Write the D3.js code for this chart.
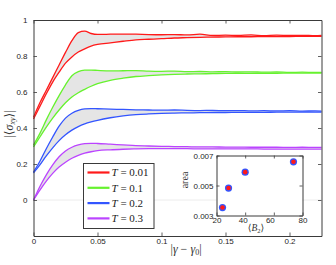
<!DOCTYPE html>
<html>
<head>
<meta charset="utf-8">
<script src="https://cdn.jsdelivr.net/npm/d3@7.9.0/dist/d3.min.js"></script>
<style>
  html, body { margin: 0; padding: 0; background: #fff; }
  svg { display: block; }
  .tick text { font-family: "Liberation Sans", Arial, sans-serif; font-size: 8px; fill: #262626; }
</style>
</head>
<body>
<svg id="chart" width="336" height="265"></svg>
<script>
// strain values |gamma - gamma0| shared by every curve
const gammas = [0, 0.005, 0.01, 0.015, 0.02, 0.025, 0.03, 0.035, 0.04, 0.045, 0.05,
  0.06, 0.07, 0.08, 0.09, 0.1, 0.11, 0.12, 0.13, 0.14, 0.15, 0.16, 0.17, 0.18,
  0.19, 0.2, 0.21, 0.22, 0.225];

const temps = ['0.01', '0.1', '0.2', '0.3'];
const colors = ['#ff1a1a', '#66f22e', '#3355ff', '#bb44ff'];

const upper001 = [0.46, 0.54, 0.61, 0.68, 0.75, 0.82, 0.885, 0.93, 0.938, 0.925, 0.92,
  0.921, 0.922, 0.921, 0.919, 0.918, 0.919, 0.917, 0.921, 0.914, 0.916, 0.914, 0.917,
  0.913, 0.916, 0.914, 0.915, 0.913, 0.914];
const lower001 = [0.45, 0.52, 0.59, 0.655, 0.71, 0.76, 0.795, 0.822, 0.84, 0.855, 0.864,
  0.873, 0.882, 0.89, 0.893, 0.896, 0.9, 0.902, 0.904, 0.905, 0.906, 0.907, 0.907,
  0.908, 0.908, 0.908, 0.909, 0.909, 0.909];

const upper01 = [0.305, 0.37, 0.445, 0.515, 0.58, 0.64, 0.69, 0.713, 0.721, 0.722, 0.72,
  0.717, 0.718, 0.719, 0.716, 0.715, 0.716, 0.713, 0.714, 0.712, 0.713, 0.711, 0.712,
  0.71, 0.711, 0.709, 0.71, 0.709, 0.709];
const lower01 = [0.295, 0.35, 0.405, 0.455, 0.5, 0.54, 0.572, 0.596, 0.615, 0.632, 0.646,
  0.665, 0.677, 0.686, 0.691, 0.695, 0.698, 0.7, 0.701, 0.702, 0.703, 0.703, 0.704,
  0.704, 0.704, 0.705, 0.705, 0.705, 0.705];

const upper02 = [0.155, 0.215, 0.285, 0.35, 0.41, 0.455, 0.482, 0.498, 0.506, 0.508, 0.507,
  0.505, 0.503, 0.501, 0.5, 0.499, 0.5, 0.498, 0.497, 0.498, 0.496, 0.497, 0.495,
  0.496, 0.495, 0.496, 0.494, 0.495, 0.494];
const lower02 = [0.15, 0.195, 0.245, 0.29, 0.33, 0.362, 0.388, 0.408, 0.423, 0.434, 0.443,
  0.457, 0.467, 0.474, 0.478, 0.481, 0.483, 0.484, 0.485, 0.486, 0.486, 0.487, 0.487,
  0.487, 0.488, 0.488, 0.488, 0.488, 0.488];

const upper03 = [0.0, 0.075, 0.14, 0.195, 0.24, 0.272, 0.293, 0.306, 0.313, 0.315, 0.314,
  0.31, 0.306, 0.302, 0.3, 0.298, 0.297, 0.296, 0.295, 0.295, 0.294, 0.294, 0.293,
  0.293, 0.293, 0.292, 0.293, 0.292, 0.292];
const lower03 = [0.0, 0.055, 0.105, 0.148, 0.183, 0.21, 0.232, 0.248, 0.26, 0.268, 0.274,
  0.279, 0.282, 0.284, 0.285, 0.285, 0.285, 0.285, 0.284, 0.284, 0.284, 0.284, 0.284,
  0.283, 0.283, 0.283, 0.283, 0.283, 0.283];

const uppers = [upper001, upper01, upper02, upper03];
const lowers = [lower001, lower01, lower02, lower03];

const xTicks = [0, 0.05, 0.1, 0.15, 0.2];
const yTicks = [0, 0.2, 0.4, 0.6, 0.8, 1];

// inset: area between the curves against <B2>
const insetB2 = [24.2, 28.4, 40, 73.7];
const insetArea = [0.00353, 0.00483, 0.00589, 0.00658];
const insetXTicks = [20, 40, 60, 80];
const insetYTicks = [0.003, 0.005, 0.007];

const svg = d3.select('#chart');

const x = d3.scaleLinear().domain([0, 0.225]).range([33.5, 321.5]);
const y = d3.scaleLinear().domain([-0.2, 1]).range([236, 20]);

// faint zero line
svg.append('line')
  .attr('x1', x(0)).attr('x2', x(0.225))
  .attr('y1', y(0)).attr('y2', y(0))
  .attr('stroke', '#ececec').attr('stroke-width', 1);

const area = d3.area()
  .x((d) => x(d.g))
  .y0((d) => y(d.lo))
  .y1((d) => y(d.hi))
  .curve(d3.curveMonotoneX);

const line = d3.line()
  .x((d) => x(d[0]))
  .y((d) => y(d[1]))
  .curve(d3.curveMonotoneX);

temps.forEach((t, i) => {
  let band = gammas.map((g, k) => ({ g: g, lo: lowers[i][k], hi: uppers[i][k] }));
  svg.append('path')
    .attr('d', area(band))
    .attr('fill', '#e5e5e5');
});

temps.forEach((t, i) => {
  [lowers[i], uppers[i]].forEach((vals) => {
    svg.append('path')
      .attr('d', line(gammas.map((g, k) => [g, vals[k]])))
      .attr('fill', 'none')
      .attr('stroke', colors[i])
      .attr('stroke-width', 1.3)
      .attr('stroke-linejoin', 'round');
  });
});

// axes, MATLAB style: box with inward ticks on all sides
const axColor = '#3a3a3a';
const gx = svg.append('g').attr('transform', `translate(0,${y(-0.2)})`)
  .call(d3.axisBottom(x).tickValues(xTicks).tickSizeInner(-3.5).tickSizeOuter(0)
    .tickPadding(3).tickFormat(d3.format('~g')));
const gxTop = svg.append('g').attr('transform', `translate(0,${y(1)})`)
  .call(d3.axisTop(x).tickValues(xTicks).tickSizeInner(-3.5).tickSizeOuter(0).tickFormat(''));
const gy = svg.append('g').attr('transform', `translate(${x(0)},0)`)
  .call(d3.axisLeft(y).tickValues(yTicks).tickSizeInner(-3.5).tickSizeOuter(0)
    .tickPadding(6).tickFormat(d3.format('~g')));
const gyRight = svg.append('g').attr('transform', `translate(${x(0.225)},0)`)
  .call(d3.axisRight(y).tickValues(yTicks).tickSizeInner(-3.5).tickSizeOuter(0).tickFormat(''));

[gx, gxTop, gy, gyRight].forEach((g) => {
  g.select('.domain').attr('stroke', axColor).attr('stroke-width', 1);
  g.selectAll('.tick line').attr('stroke', axColor).attr('stroke-width', 0.8);
});
gx.selectAll('.tick text').attr('dy', '0.6em');

// axis labels
svg.append('text')
  .attr('x', 186).attr('y', 253)
  .attr('text-anchor', 'middle')
  .attr('font-family', '"Liberation Serif", "DejaVu Serif", serif')
  .attr('font-size', 12).attr('fill', '#333')
  .html('|<tspan font-style="italic">γ</tspan> − <tspan font-style="italic">γ</tspan><tspan font-size="8" dy="2">0</tspan><tspan dy="-2">|</tspan>');

svg.append('text')
  .attr('transform', 'translate(13,124) rotate(-90)')
  .attr('text-anchor', 'middle')
  .attr('font-family', '"Liberation Serif", "DejaVu Serif", serif')
  .attr('font-size', 12).attr('fill', '#333')
  .html('|⟨<tspan font-style="italic">σ</tspan><tspan font-style="italic" font-size="8" dy="2">xy</tspan><tspan dy="-2">⟩|</tspan>');

// legend
const legend = svg.append('g');
legend.append('rect')
  .attr('x', 83.5).attr('y', 163.5).attr('width', 70.5).attr('height', 65)
  .attr('fill', '#fff').attr('stroke', axColor).attr('stroke-width', 1);

temps.forEach((t, i) => {
  let ly = 172.5 + i * 15.3;
  legend.append('line')
    .attr('x1', 87.5).attr('x2', 109.5).attr('y1', ly).attr('y2', ly)
    .attr('stroke', colors[i]).attr('stroke-width', 2.2);
  legend.append('text')
    .attr('x', 111.5).attr('y', ly + 3.8)
    .attr('font-family', '"Liberation Serif", "DejaVu Serif", serif')
    .attr('font-size', 11).attr('fill', '#222')
    .html(`<tspan font-style="italic">T</tspan> = ${t}`);
});

// inset
const ix = d3.scaleLinear().domain([20, 80]).range([216.5, 302.5]);
const iy = d3.scaleLinear().domain([0.003, 0.007]).range([215.5, 155.5]);

svg.append('rect')
  .attr('x', 216.5).attr('y', 155.5).attr('width', 86).attr('height', 60)
  .attr('fill', '#fff');

const igx = svg.append('g').attr('transform', `translate(0,${iy(0.003)})`)
  .call(d3.axisBottom(ix).tickValues(insetXTicks).tickSizeInner(-3).tickSizeOuter(0).tickPadding(3));
const igxTop = svg.append('g').attr('transform', `translate(0,${iy(0.007)})`)
  .call(d3.axisTop(ix).tickValues(insetXTicks).tickSizeInner(-3).tickSizeOuter(0).tickFormat(''));
const igy = svg.append('g').attr('transform', `translate(${ix(20)},0)`)
  .call(d3.axisLeft(iy).tickValues(insetYTicks).tickSizeInner(-3).tickSizeOuter(0)
    .tickPadding(3).tickFormat(d3.format('.3f')));
const igyRight = svg.append('g').attr('transform', `translate(${ix(80)},0)`)
  .call(d3.axisRight(iy).tickValues(insetYTicks).tickSizeInner(-3).tickSizeOuter(0).tickFormat(''));

[igx, igxTop, igy, igyRight].forEach((g) => {
  g.select('.domain').attr('stroke', axColor).attr('stroke-width', 1);
  g.selectAll('.tick line').attr('stroke', axColor).attr('stroke-width', 0.8);
});
// 40 and 60 sit a little left to make room for the <B2> label, as in the original
igx.selectAll('.tick text')
  .attr('dy', '0.55em')
  .attr('dx', (d) => (d === 40 ? -2.5 : d === 60 ? -4 : 0));

svg.append('text')
  .attr('x', 256).attr('y', 231)
  .attr('text-anchor', 'middle')
  .attr('font-family', '"Liberation Serif", "DejaVu Serif", serif')
  .attr('font-size', 9.5).attr('fill', '#333')
  .html('⟨<tspan font-style="italic">B</tspan><tspan font-size="6.5" dy="2">2</tspan><tspan dy="-2">⟩</tspan>');

svg.append('text')
  .attr('transform', 'translate(188,180) rotate(-90)')
  .attr('text-anchor', 'middle')
  .attr('font-family', '"Liberation Serif", "DejaVu Serif", serif')
  .attr('font-size', 10).attr('fill', '#333')
  .text('area');

insetB2.forEach((b, k) => {
  svg.append('circle')
    .attr('cx', ix(b)).attr('cy', iy(insetArea[k])).attr('r', 3.6)
    .attr('fill', '#3355ff');
  svg.append('circle')
    .attr('cx', ix(b)).attr('cy', iy(insetArea[k])).attr('r', 2.3)
    .attr('fill', '#ff1a1a');
});
</script>
</body>
</html>
